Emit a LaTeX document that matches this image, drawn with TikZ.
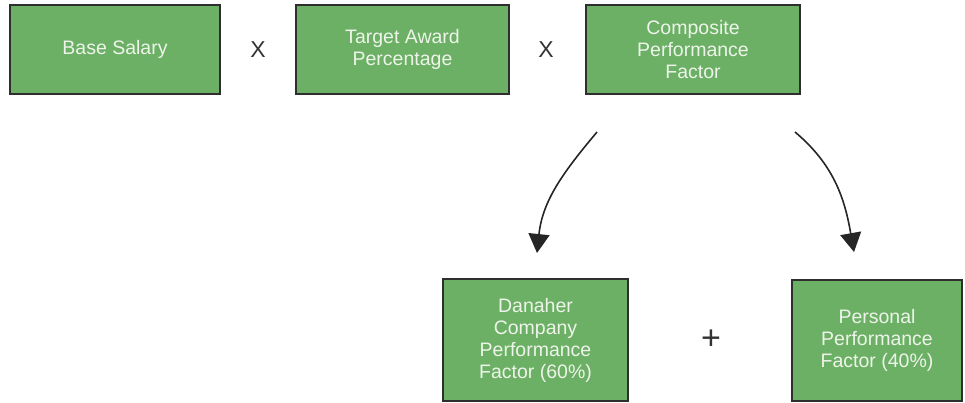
\documentclass[tikz,border=0pt]{standalone}
\usepackage{fontspec}
\setmainfont{Liberation Sans}
\usetikzlibrary{positioning}
\usetikzlibrary{arrows.meta}
\definecolor{boxgreen}{HTML}{6BB065}
\definecolor{boxedge}{HTML}{2E2E2E}
\definecolor{boxtext}{HTML}{EEF4EA}
\begin{document}
\begin{tikzpicture}
 [ x=1pt, y=1pt
 , factor/.style={draw=boxedge, line width=2.4pt, fill=boxgreen, text=boxtext, align=center, inner sep=0pt, font=\fontsize{19.5}{22}\selectfont}
 , times/.style={font=\fontsize{23}{25}\selectfont, text=black!80}
 , flow/.style={line width=1.6pt, draw=black!85, -{Triangle[width=21pt,length=19pt]}}
 ]
  \useasboundingbox (0,0) rectangle (965,-402);
  % top row
  \node [factor, minimum width=210, minimum height=89] (salary) at (115,-49.5) {Base Salary};
  \node [times] (x1) at (258,-49.5) {X};
  \node [factor, minimum width=213, minimum height=89] (target) at (402.5,-49.5) {Target Award\\Percentage};
  \node [times] (x2) at (546,-49.5) {X};
  \node [factor, minimum width=214, minimum height=89] (composite) at (693,-49.5) {Composite\\Performance\\Factor};
  % bottom row
  \node [factor, minimum width=185, minimum height=122] (company) at (535.5,-340) {Danaher\\Company\\Performance\\Factor (60\%)};
  \node [times, font=\fontsize{34}{36}\selectfont] (plus) at (711,-340) {+};
  \node [factor, minimum width=170, minimum height=121] (personal) at (877,-340.5) {Personal\\Performance\\Factor (40\%)};
  % split arrows
  \coordinate (leftfrom) at (597,-132);
  \coordinate (leftto) at (537,-253);
  \coordinate (rightfrom) at (795,-132);
  \coordinate (rightto) at (854,-252);
  \draw [flow] (leftfrom) to [out=230, in=84] (leftto);
  \draw [flow] (rightfrom) to [out=-40, in=100] (rightto);
\end{tikzpicture}
\end{document}
